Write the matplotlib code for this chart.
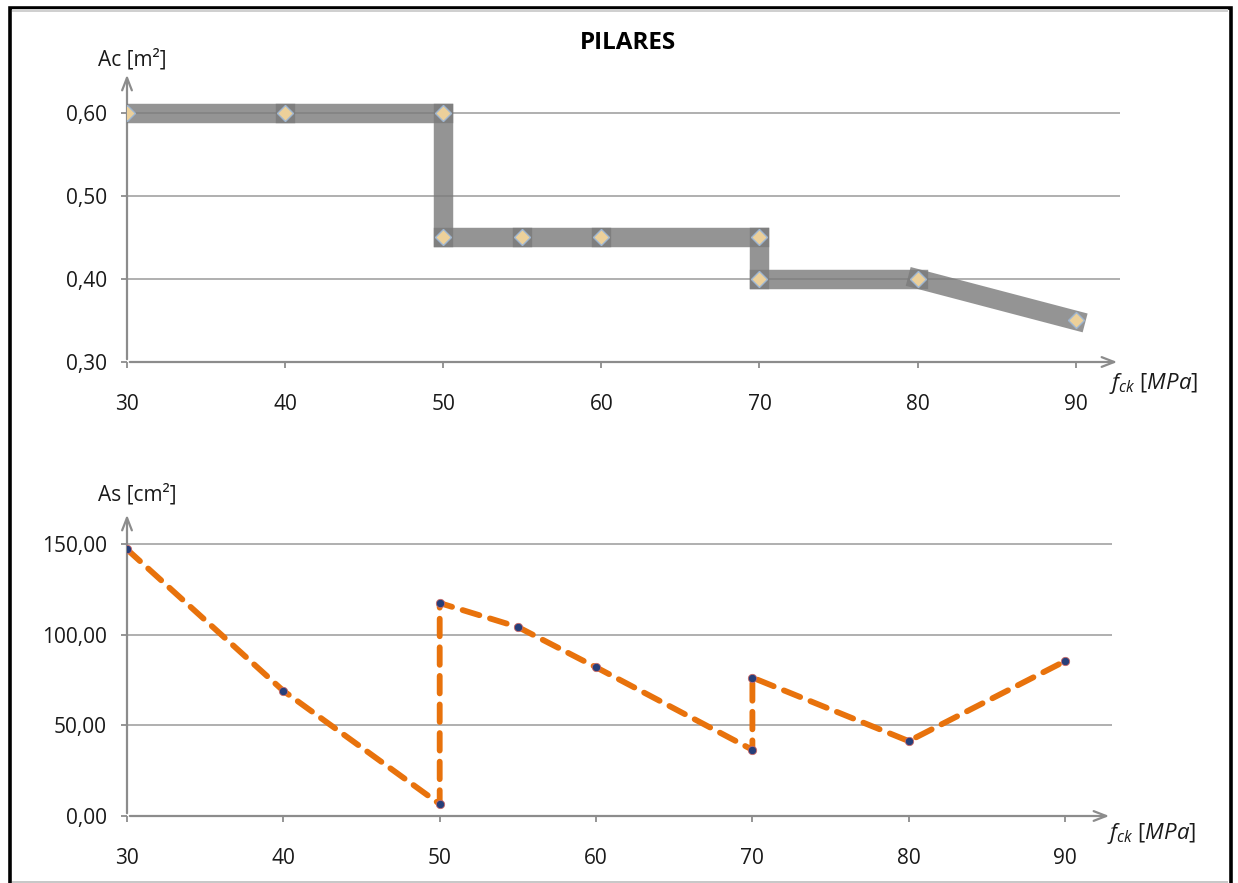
import matplotlib
matplotlib.use("Agg")
import matplotlib.pyplot as plt
from matplotlib.patches import Rectangle

plt.rcParams['font.family'] = ['Open Sans', 'DejaVu Sans']
plt.rcParams['mathtext.fontset'] = 'custom'
plt.rcParams['mathtext.rm'] = 'Open Sans'
plt.rcParams['mathtext.it'] = 'Open Sans:italic'

# Data
fck_ac = [30, 40, 50, 50, 55, 60, 70, 70, 80, 90]
ac_m2 = [0.60, 0.60, 0.60, 0.45, 0.45, 0.45, 0.45, 0.40, 0.40, 0.35]

fck_as = [30, 40, 50, 50, 55, 60, 70, 70, 80, 90]
as_cm2 = [147.0, 69.0, 6.6, 117.4, 104.2, 82.0, 36.5, 76.3, 41.3, 85.4]

x_ticks = [30, 40, 50, 60, 70, 80, 90]
ac_ticks = [0.30, 0.40, 0.50, 0.60]
as_ticks = [0.0, 50.0, 100.0, 150.0]

title = "PILARES"

W, H = 1238, 883
fig = plt.figure(figsize=(W / 100, H / 100), dpi=100)

AXIS_GRAY = '#8c8c8c'
TXT = '#1a1a1a'


def px_axes(x0, y_bottom, x1, y_top):
    return fig.add_axes([x0 / W, 1 - y_bottom / H, (x1 - x0) / W, (y_bottom - y_top) / H])


def style_axes(ax, yticks, yfmt, xlim, ylim):
    ax.set_xlim(*xlim)
    ax.set_ylim(*ylim)
    for s in ax.spines.values():
        s.set_visible(False)
    ax.set_xticks(x_ticks)
    ax.set_xticklabels([str(v) for v in x_ticks])
    ax.set_yticks(yticks)
    ax.set_yticklabels([yfmt(v) for v in yticks])
    ax.tick_params(axis='x', length=4.5, width=1.3, color=AXIS_GRAY, pad=18.5,
                   labelsize=15, labelcolor=TXT)
    ax.tick_params(axis='y', length=4.5, width=1.3, color=AXIS_GRAY, pad=10,
                   labelsize=15, labelcolor=TXT)
    for v in yticks[1:]:
        ax.axhline(v, color='#9a9a9a', lw=1.1, zorder=1)
    # axes drawn as arrows
    ax.annotate('', xy=(1.0, 0), xytext=(0, 0), xycoords='axes fraction',
                arrowprops=dict(arrowstyle='->,head_length=0.9,head_width=0.35',
                                color=AXIS_GRAY, lw=1.6), zorder=2)
    ax.annotate('', xy=(0, 1.0), xytext=(0, 0), xycoords='axes fraction',
                arrowprops=dict(arrowstyle='->,head_length=0.9,head_width=0.35',
                                color=AXIS_GRAY, lw=1.6), zorder=2)


def comma(fmt):
    return lambda v: (fmt % v).replace('.', ',')


# ---- Top panel: cross-section area ----
ax1 = px_axes(127, 362, 1120, 72)
style_axes(ax1, ac_ticks, comma('%.2f'), (30, 92.8), (0.30, 0.649))
for i in range(len(fck_ac) - 1):
    ax1.plot(fck_ac[i:i + 2], ac_m2[i:i + 2], color='#7a7a7a', alpha=0.8, lw=14,
             solid_capstyle='projecting', zorder=3)
ax1.plot(fck_ac, ac_m2, ls='none', marker='D', ms=8, mfc='#ecd09a',
         mec='#9fb6d0', mew=1.0, zorder=4)

# ---- Bottom panel: reinforcement area ----
ax2 = px_axes(127, 816, 1112, 512)
style_axes(ax2, as_ticks, comma('%.2f'), (30, 93.0), (0.0, 167.6))
ax2.plot(fck_as, as_cm2, color='#e8720c', lw=4.2, ls=(0, (3.0, 1.9)),
         dash_capstyle='round', zorder=3)
ax2.plot(fck_as, as_cm2, ls='none', marker='o', ms=6, mfc='#263f7a',
         mec='#c96a6a', mew=0.6, zorder=4)

# ---- Texts ----
fig.text(628 / W, 1 - 43 / H, title, ha='center', va='center',
         fontsize=17.5, fontweight='bold', color='black')
fig.text(98 / W, 1 - 60 / H, 'Ac [m²]', ha='left', va='center',
         fontsize=15, color=TXT)
fig.text(98 / W, 1 - 495 / H, 'As [cm²]', ha='left', va='center',
         fontsize=15, color=TXT)
fig.text(1109 / W, 1 - 384 / H, r'$f_{ck}$ $[MPa]$', ha='left', va='center',
         fontsize=16, color=TXT)
fig.text(1107 / W, 1 - 833 / H, r'$f_{ck}$ $[MPa]$', ha='left', va='center',
         fontsize=16, color=TXT)

# ---- Frame ----
fig.patches.append(Rectangle((9.5 / W, -0.02), (1221 / W), 1.02 - 7.5 / H,
                             transform=fig.transFigure, fill=False,
                             edgecolor='black', lw=2.6))
fig.patches.append(Rectangle((12 / W, 1 - 12 / H), (1216 / W), 3 / H,
                             transform=fig.transFigure, facecolor='#d0d0d0',
                             edgecolor='none'))
fig.patches.append(Rectangle((12 / W, 0), (1216 / W), 2 / H,
                             transform=fig.transFigure, facecolor='#c8c8c8',
                             edgecolor='none'))

fig.savefig('out.png', dpi=100)
